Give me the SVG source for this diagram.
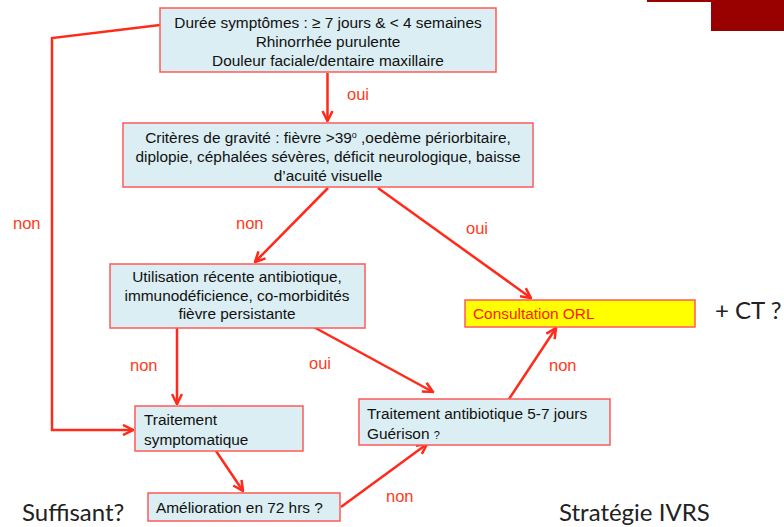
<svg xmlns="http://www.w3.org/2000/svg" width="784" height="527" viewBox="0 0 784 527">
<defs>
<marker id="ah" viewBox="0 0 10 10" refX="9" refY="5" markerWidth="5" markerHeight="5" orient="auto-start-reverse" markerUnits="strokeWidth">
<path d="M1,1 L9,5 L1,9" fill="none" stroke="#ff2a1a" stroke-width="2"/>
</marker>
</defs>
<style>
.box{fill:#dbeef3;stroke:#ff5a5a;stroke-width:1.5}
.t{font-family:"Liberation Sans Narrow","Liberation Sans",Arial,sans-serif;font-size:15.4px;fill:#111}
.c{text-anchor:middle}
.lbl{font-family:"Liberation Sans Narrow","Liberation Sans",Arial,sans-serif;font-size:16.5px;fill:#ff3b1a}
.big{font-family:"Lato","Open Sans",sans-serif;font-size:24px;fill:#222}
.cn{fill:none;stroke:#ff2a1a;stroke-width:2.5;marker-end:url(#ah)}
</style>
<rect x="711" y="0" width="73" height="31" fill="#990000"/>
<rect x="647" y="0" width="64" height="2" fill="#990000"/>

<g id="connectors">
<path class="cn" d="M327.5,73 V121"/>
<path class="cn" d="M160,25 L52,38 V430 H133"/>
<path class="cn" d="M328,188 L255,262"/>
<path class="cn" d="M378,188 L531,298"/>
<path class="cn" d="M177,328 V404"/>
<path class="cn" d="M310,325 L433,392"/>
<path class="cn" d="M216,451 L243,491"/>
<path class="cn" d="M341,507 L427,444"/>
<path class="cn" d="M509,399 L556,328"/>
<text class="lbl" x="347" y="100">oui</text>
<text class="lbl" x="13" y="229">non</text>
<text class="lbl" x="236" y="229">non</text>
<text class="lbl" x="466" y="234">oui</text>
<text class="lbl" x="130" y="371">non</text>
<text class="lbl" x="309" y="369">oui</text>
<text class="lbl" x="549" y="371">non</text>
<text class="lbl" x="386" y="502">non</text>
</g>

<g id="n1">
<rect class="box" x="160" y="8" width="336" height="64"/>
<text class="t c" x="328" y="28">Durée symptômes : ≥ 7 jours &amp; &lt; 4 semaines</text>
<text class="t c" x="328" y="47">Rhinorrhée purulente</text>
<text class="t c" x="328" y="66">Douleur faciale/dentaire maxillaire</text>
</g>
<g id="n2">
<rect class="box" x="123" y="123" width="410" height="64"/>
<text class="t c" x="328" y="143">Critères de gravité : fièvre &gt;39<tspan font-size="9" dy="-5">o</tspan><tspan dy="5"> ,oedème périorbitaire,</tspan></text>
<text class="t c" x="328" y="162">diplopie, céphalées sévères, déficit neurologique, baisse</text>
<text class="t c" x="328" y="181">d’acuité visuelle</text>
</g>
<g id="n3">
<rect class="box" x="110" y="264" width="255" height="64"/>
<text class="t c" x="237" y="282">Utilisation récente antibiotique,</text>
<text class="t c" x="237" y="301">immunodéficience, co-morbidités</text>
<text class="t c" x="237" y="319">fièvre persistante</text>
</g>
<g id="n4">
<rect x="465" y="300" width="230" height="27" fill="#ffff00" stroke="#ff5a5a" stroke-width="1.5"/>
<text class="t" x="473" y="319" style="fill:#ff1a00">Consultation ORL</text>
</g>
<text class="big" x="715" y="319">+ CT ?</text>
<g id="n5">
<rect class="box" x="135" y="406" width="168" height="45"/>
<text class="t" x="144" y="425">Traitement</text>
<text class="t" x="144" y="445">symptomatique</text>
</g>
<g id="n6">
<rect class="box" x="359" y="399" width="251" height="46"/>
<text class="t" x="367" y="419">Traitement antibiotique 5-7 jours</text>
<text class="t" x="367" y="439">Guérison <tspan font-size="11">?</tspan></text>
</g>
<g id="n7">
<rect class="box" x="148" y="493" width="192" height="28"/>
<text class="t" x="156" y="513">Amélioration en 72 hrs ?</text>
</g>
<text class="big" x="22" y="521">Suffisant?</text>
<text class="big" x="559" y="521">Stratégie IVRS</text>
</svg>
